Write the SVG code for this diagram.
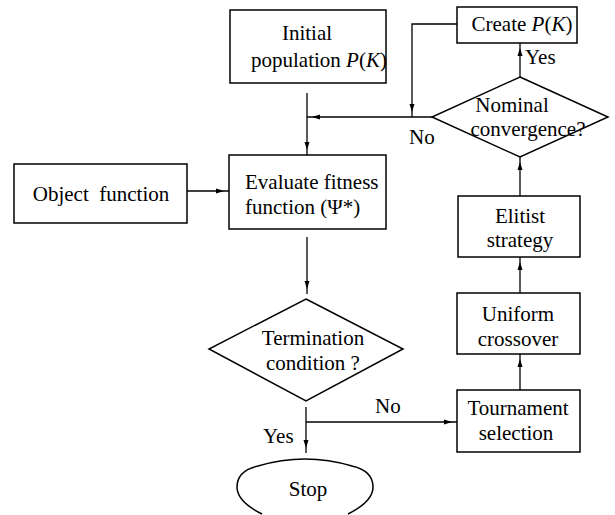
<svg xmlns="http://www.w3.org/2000/svg" width="615" height="515" viewBox="0 0 615 515" font-family="'Liberation Serif', 'Times New Roman', 'DejaVu Serif', serif">
<style>
.box{fill:#fff;stroke:#000;stroke-width:1.5}
.ln{fill:none;stroke:#000;stroke-width:1.3}
.t{font-family:'Liberation Serif','Times New Roman','DejaVu Serif',serif;font-size:21px;fill:#000;text-anchor:middle}
.s{text-anchor:start}
</style>
<defs>
<marker id="ah" viewBox="0 0 8 5" refX="13" refY="2.5" markerWidth="8" markerHeight="5" markerUnits="userSpaceOnUse" orient="auto" overflow="visible">
<path d="M0,0 L8,2.5 L0,5 z" fill="#000"/>
</marker>
</defs>
<g id="connectors">
<path class="ln" d="M307,93 V155" marker-end="url(#ah)"/>
<path class="ln" d="M432,117 H307" marker-end="url(#ah)"/>
<path class="ln" d="M457,24 H412 V117" marker-end="url(#ah)"/>
<path class="ln" d="M520,77 V43" marker-end="url(#ah)"/>
<path class="ln" d="M520,196 V157" marker-end="url(#ah)"/>
<path class="ln" d="M187,191 H229" marker-end="url(#ah)"/>
<path class="ln" d="M307,237 V294" marker-end="url(#ah)"/>
<path class="ln" d="M306,407 V453" marker-end="url(#ah)"/>
<path class="ln" d="M306,422 H457" marker-end="url(#ah)"/>
<path class="ln" d="M520,390 V354" marker-end="url(#ah)"/>
<path class="ln" d="M520,293 V257" marker-end="url(#ah)"/>
</g>
<g id="initial">
<rect class="box" x="230" y="10" width="156" height="73"/>
<text class="t" x="307" y="40">Initial</text>
<text class="t" x="319" y="67">population <tspan font-style="italic">P</tspan>(<tspan font-style="italic">K</tspan>)</text>
</g>
<g id="create">
<rect class="box" x="457" y="7" width="120" height="36"/>
<text class="t" x="522" y="31">Create <tspan font-style="italic">P</tspan>(<tspan font-style="italic">K</tspan>)</text>
</g>
<g id="nominal">
<polygon class="box" points="520,77 608,117 520,157 432,117"/>
<text class="t" x="512" y="112">Nominal</text>
<text class="t" x="528" y="136">convergence?</text>
</g>
<g id="object">
<rect class="box" x="14" y="164" width="173" height="59"/>
<text class="t" x="101" y="201" xml:space="preserve">Object  function</text>
</g>
<g id="evaluate">
<rect class="box" x="229" y="155" width="157" height="74"/>
<text class="t s" x="245" y="189">Evaluate fitness</text>
<text class="t s" x="245" y="214">function (Ψ*)</text>
</g>
<g id="termination">
<polygon class="box" points="306,299 403,349 306,401 209,349"/>
<text class="t" x="313" y="345">Termination</text>
<text class="t" x="313" y="370">condition ?</text>
</g>
<g id="elitist">
<rect class="box" x="458" y="196" width="122" height="61"/>
<text class="t" x="520" y="223">Elitist</text>
<text class="t" x="520" y="247">strategy</text>
</g>
<g id="uniform">
<rect class="box" x="457" y="293" width="123" height="61"/>
<text class="t" x="518" y="321">Uniform</text>
<text class="t" x="518" y="346">crossover</text>
</g>
<g id="tournament">
<rect class="box" x="457" y="390" width="123" height="62"/>
<text class="t" x="518" y="415">Tournament</text>
<text class="t" x="516" y="440">selection</text>
</g>
<g id="stop">
<path class="box" d="M262,514 C246,506 237,497 237,487 C237,476 245,469 258,466 Q305,452 352,466 C365,469 373,476 373,487 C373,497 364,506 348,514"/>
<text class="t" x="308" y="496">Stop</text>
</g>
<g id="labels">
<text class="t s" x="525" y="64">Yes</text>
<text class="t s" x="409" y="144">No</text>
<text class="t s" x="375" y="413">No</text>
<text class="t s" x="263" y="443">Yes</text>
</g>
</svg>
